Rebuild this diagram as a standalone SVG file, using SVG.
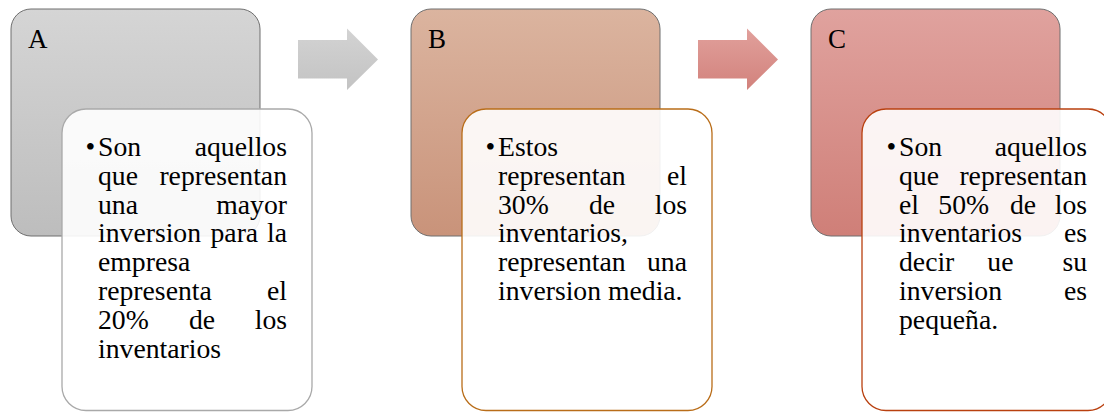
<svg xmlns="http://www.w3.org/2000/svg" width="1104" height="412" viewBox="0 0 1104 412">
<defs>
<linearGradient id="gA" x1="0" y1="0" x2="0" y2="1"><stop offset="0" stop-color="#d5d5d5"/><stop offset="1" stop-color="#bdbdbd"/></linearGradient>
<linearGradient id="gB" x1="0" y1="0" x2="0" y2="1"><stop offset="0" stop-color="#dbb49f"/><stop offset="1" stop-color="#c9937a"/></linearGradient>
<linearGradient id="gC" x1="0" y1="0" x2="0" y2="1"><stop offset="0" stop-color="#e0a29e"/><stop offset="1" stop-color="#cf7f78"/></linearGradient>
<linearGradient id="gArr1" x1="0" y1="0" x2="0" y2="1"><stop offset="0" stop-color="#d3d3d3"/><stop offset="1" stop-color="#c3c3c3"/></linearGradient>
<linearGradient id="gArr2" x1="0" y1="0" x2="0" y2="1"><stop offset="0" stop-color="#e1a09c"/><stop offset="1" stop-color="#d2827c"/></linearGradient>
</defs>
<style>
.outer{stroke:#6f6f6f;stroke-width:1}
.inner{fill:#ffffff;fill-opacity:0.9;stroke-width:1.3}
text{font-family:"Liberation Serif","Times New Roman",serif;fill:#000}
.lbl{font-size:27px}
.t{font-size:27.7px}
.e{text-anchor:end}
.bul{font-size:27.7px}
</style>
<g id="connectors">
<polygon points="298,40 347,40 347,28.5 378,59.5 347,90 347,78.5 298,78.5" fill="url(#gArr1)"/>
<polygon points="698,40 747,40 747,28.5 778,59.5 747,90 747,78.5 698,78.5" fill="url(#gArr2)"/>
</g>
<g id="nodeA">
<rect class="outer" x="11" y="9" width="249" height="227" rx="20" fill="url(#gA)"/>
<text class="lbl" x="28" y="48">A</text>
</g>
<g id="nodeB">
<rect class="outer" x="411" y="9" width="249" height="227" rx="20" fill="url(#gB)"/>
<text class="lbl" x="428" y="48">B</text>
</g>
<g id="nodeC">
<rect class="outer" x="811" y="9" width="249" height="227" rx="20" fill="url(#gC)"/>
<text class="lbl" x="828" y="48">C</text>
</g>
<g id="detailA">
<rect class="inner" x="62" y="109" width="250" height="301.5" rx="24" stroke="#a9a9a9"/>
<g class="t">
<text class="bul" x="85.5" y="156">•</text>
<text x="98" y="156">Son</text><text class="e" x="287" y="156">aquellos</text>
<text x="98" y="184.8">que</text><text class="e" x="287" y="184.8">representan</text>
<text x="98" y="213.6">una</text><text class="e" x="287" y="213.6">mayor</text>
<text x="98" y="242.4">inversion</text><text x="210.5" y="242.4">para</text><text class="e" x="287" y="242.4">la</text>
<text x="98" y="271.2">empresa</text>
<text x="98" y="300">representa</text><text class="e" x="287" y="300">el</text>
<text x="98" y="328.8">20%</text><text x="189" y="328.8">de</text><text class="e" x="287" y="328.8">los</text>
<text x="98" y="357.6">inventarios</text>
</g>
</g>
<g id="detailB">
<rect class="inner" x="462" y="109" width="250" height="301.5" rx="24" stroke="#b96d19"/>
<g class="t">
<text class="bul" x="485.5" y="156">•</text>
<text x="498" y="156">Estos</text>
<text x="498" y="184.8">representan</text><text class="e" x="687" y="184.8">el</text>
<text x="498" y="213.6">30%</text><text x="589" y="213.6">de</text><text class="e" x="687" y="213.6">los</text>
<text x="498" y="242.4">inventarios,</text>
<text x="498" y="271.2">representan</text><text class="e" x="687" y="271.2">una</text>
<text x="498" y="300">inversion media.</text>
</g>
</g>
<g id="detailC">
<rect class="inner" x="862" y="109" width="250" height="301.5" rx="24" stroke="#b9400f"/>
<g class="t">
<text class="bul" x="886.5" y="156">•</text>
<text x="899" y="156">Son</text><text class="e" x="1087" y="156">aquellos</text>
<text x="899" y="184.8">que</text><text class="e" x="1087" y="184.8">representan</text>
<text x="899" y="213.6">el</text><text x="938.3" y="213.6">50%</text><text x="1010" y="213.6">de</text><text class="e" x="1087" y="213.6">los</text>
<text x="899" y="242.4">inventarios</text><text class="e" x="1087" y="242.4">es</text>
<text x="899" y="271.2">decir</text><text x="987.3" y="271.2">ue</text><text class="e" x="1087" y="271.2">su</text>
<text x="899" y="300">inversion</text><text class="e" x="1087" y="300">es</text>
<text x="899" y="328.8">pequeña.</text>
</g>
</g>
</svg>
